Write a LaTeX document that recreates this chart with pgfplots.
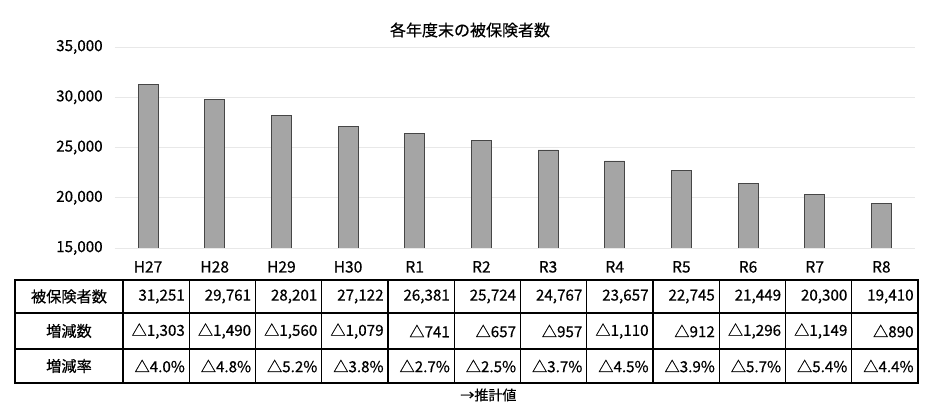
\documentclass[border=0pt]{standalone}
\usepackage{fontspec}
\setmainfont{Noto Sans CJK JP}[FakeBold=0.5]
\usepackage{pgfplots}
\pgfplotsset{compat=1.18}
\definecolor{barg}{RGB}{165,165,165}
\begin{document}
\begin{tikzpicture}[x=1pt,y=1pt]
\useasboundingbox (0,0) rectangle (468.5,203.5);
\begin{axis}[
 at={(57.35pt,79.5pt)}, anchor=south west,
 scale only axis, width=400pt, height=100.5pt,
 xmin=-0.5, xmax=11.5, ymin=15000, ymax=35000,
 ytick={15000,20000,25000,30000,35000},
 xtick={0,...,11},
 xticklabels={H27,H28,H29,H30,R1,R2,R3,R4,R5,R6,R7,R8},
 axis line style={draw=none},
 major tick length=0pt,
 ymajorgrids, grid style={gray!18, line width=0.4pt},
 /pgf/number format/assume math mode=true,
 /pgf/number format/1000 sep={,},
 scaled y ticks=false,
 yticklabel style={font=\fontsize{7.6}{9}\selectfont, xshift=-2.5pt},
 xticklabel style={font=\fontsize{7.8}{9}\selectfont, yshift=-3pt},
]
\addplot[ybar, bar width=10pt, fill=barg, draw=gray!55!black, line width=0.3pt] coordinates {
(0,31251) (1,29761) (2,28201) (3,27122) (4,26381) (5,25724)
(6,24767) (7,23657) (8,22745) (9,21449) (10,20300) (11,19410)};
\end{axis}
\node[font=\fontsize{8}{9}\selectfont] at (235,188.5) {各年度末の被保険者数};
% table
\foreach \i in {1,...,11} {
  \draw[line width=0.6pt] ({61.5+33.125*\i},12) -- ({61.5+33.125*\i},63.5);
}
\draw[line width=0.6pt] (61.5,12) -- (61.5,63.5);
\draw[line width=0.6pt] (7.5,47) -- (459,47);
\draw[line width=0.6pt] (7.5,29) -- (459,29);
\draw[line width=0.9pt] (7.5,12) rectangle (459,63.5);
\begin{scope}[every node/.style={font=\fontsize{7.6}{9}\selectfont, inner sep=0pt}]
\node at (34.5,55.25) {被保険者数};
\node at (34.5,38) {増減数};
\node at (34.5,20.5) {増減率};
\foreach \v [count=\i from 1] in {{31,251},{29,761},{28,201},{27,122},{26,381},{25,724},{24,767},{23,657},{22,745},{21,449},{20,300},{19,410}} {
  \node[anchor=east] at ({61.5+33.125*\i-2},55.25) {\v};
}
\foreach \v [count=\i from 1] in {{△1,303},{△1,490},{△1,560},{△1,079},{△741},{△657},{△957},{△1,110},{△912},{△1,296},{△1,149},{△890}} {
  \node[anchor=east] at ({61.5+33.125*\i-2},38) {\v};
}
\foreach \v [count=\i from 1] in {{△4.0\%},{△4.8\%},{△5.2\%},{△3.8\%},{△2.7\%},{△2.5\%},{△3.7\%},{△4.5\%},{△3.9\%},{△5.7\%},{△5.4\%},{△4.4\%}} {
  \node[anchor=east] at ({61.5+33.125*\i-2},20.5) {\v};
}
\node[anchor=west, font=\fontsize{7}{8}\selectfont] at (230,6) {→推計値};
\end{scope}
\end{tikzpicture}
\end{document}
